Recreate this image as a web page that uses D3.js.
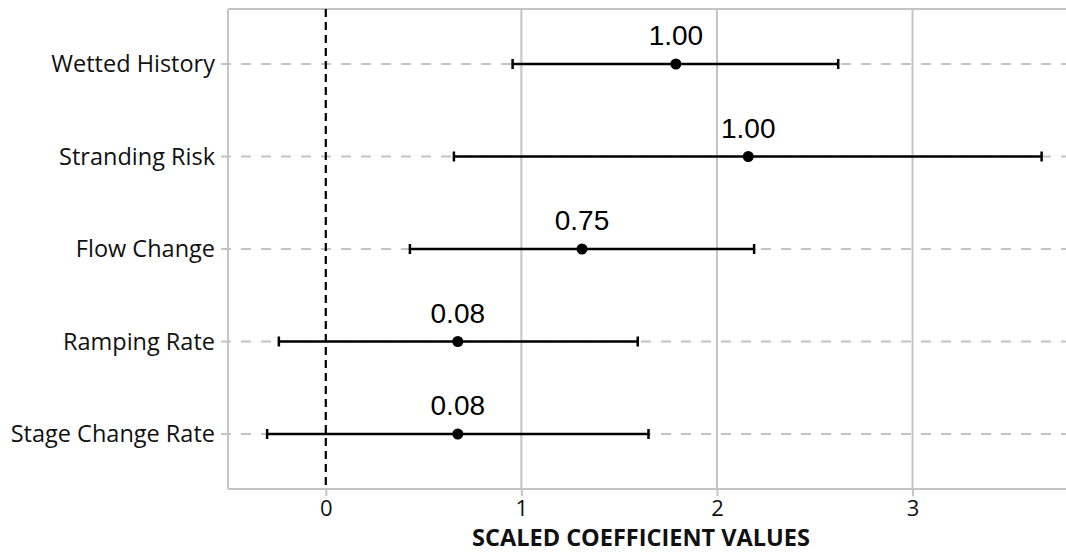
<!DOCTYPE html>
<html>
<head>
<meta charset="utf-8">
<script src="https://cdn.jsdelivr.net/npm/d3@7"></script>
<style>
  body { margin: 0; background: #fff; }
  svg { display: block; }
</style>
</head>
<body>
<div class="container"></div>
<script>
const w = 1066;
const h = 554;

// data
const variables = ['Wetted History', 'Stranding Risk', 'Flow Change', 'Ramping Rate', 'Stage Change Rate'];
const estimates = [1.79, 2.16, 1.31, 0.675, 0.675];
const lower = [0.955, 0.655, 0.43, -0.24, -0.30];
const upper = [2.62, 3.66, 2.19, 1.595, 1.65];
const weights = ['1.00', '1.00', '0.75', '0.08', '0.08'];
const xTicks = [0, 1, 2, 3];

const margin = { top: 9, bottom: 65, left: 228, right: 0 };
const height = h - margin.top - margin.bottom;

const svg = d3.select('.container').append('svg')
  .attr('width', w)
  .attr('height', h);

const chart = svg.append('g')
  .attr('transform', `translate(${margin.left}, ${margin.top})`);

const x = d3.scaleLinear()
  .domain([-0.5, 3.8])
  .range([0, 841]);

const y = d3.scalePoint()
  .domain(variables)
  .range([55, 425]);

const grey = '#c4c4c4';
const sans = 'Open Sans, sans-serif';

// vertical gridlines
chart.selectAll('.vgrid')
  .data(xTicks.filter(d => d !== 0))
  .enter()
  .append('line')
  .attr('x1', d => x(d))
  .attr('x2', d => x(d))
  .attr('y1', 0)
  .attr('y2', height)
  .style('stroke', grey)
  .style('stroke-width', 2);

// horizontal dashed gridlines
chart.selectAll('.hgrid')
  .data(variables)
  .enter()
  .append('line')
  .attr('x1', -7)
  .attr('x2', w - margin.left)
  .attr('y1', d => y(d))
  .attr('y2', d => y(d))
  .style('stroke', grey)
  .style('stroke-width', 2)
  .style('stroke-dasharray', '10,10')
  .style('stroke-dashoffset', 0);

// frame: top and left
chart.append('line')
  .attr('x1', 0).attr('x2', w - margin.left)
  .attr('y1', 0).attr('y2', 0)
  .style('stroke', grey).style('stroke-width', 2);
chart.append('line')
  .attr('x1', 0).attr('x2', 0)
  .attr('y1', 0).attr('y2', height)
  .style('stroke', grey).style('stroke-width', 2);

// x axis
const xAxis = d3.axisBottom(x)
  .tickValues(xTicks)
  .tickFormat(d3.format('d'))
  .tickSize(7)
  .tickPadding(4);

const gx = chart.append('g')
  .attr('transform', `translate(0, ${height})`)
  .call(xAxis);
gx.select('.domain').remove();
gx.selectAll('.tick line').style('stroke', grey).style('stroke-width', 2);
gx.selectAll('.tick text')
  .style('font-family', sans)
  .style('font-size', '22px')
  .style('fill', '#111');
chart.append('line')
  .attr('x1', 0).attr('x2', w - margin.left)
  .attr('y1', height).attr('y2', height)
  .style('stroke', grey).style('stroke-width', 2);

// y labels
chart.selectAll('.ylab')
  .data(variables)
  .enter()
  .append('text')
  .attr('x', -13)
  .attr('y', d => y(d))
  .attr('dy', '0.36em')
  .attr('text-anchor', 'end')
  .style('font-family', sans)
  .style('font-size', '23.5px')
  .style('fill', '#111')
  .text(d => d);

// zero reference line
chart.append('line')
  .attr('x1', x(0)).attr('x2', x(0))
  .attr('y1', 0).attr('y2', height)
  .style('stroke', '#000')
  .style('stroke-width', 2.2)
  .style('stroke-dasharray', '8,5');

// error bars
const rows = variables.map((v, i) => ({ v, est: estimates[i], lo: lower[i], hi: upper[i], wt: weights[i] }));

chart.selectAll('.bar')
  .data(rows)
  .enter()
  .append('line')
  .attr('x1', d => x(d.lo))
  .attr('x2', d => x(d.hi))
  .attr('y1', d => y(d.v))
  .attr('y2', d => y(d.v))
  .style('stroke', '#000')
  .style('stroke-width', 2.5);

chart.selectAll('.capL')
  .data(rows)
  .enter()
  .append('line')
  .attr('x1', d => x(d.lo)).attr('x2', d => x(d.lo))
  .attr('y1', d => y(d.v) - 5).attr('y2', d => y(d.v) + 5)
  .style('stroke', '#000').style('stroke-width', 2.5);

chart.selectAll('.capR')
  .data(rows)
  .enter()
  .append('line')
  .attr('x1', d => x(d.hi)).attr('x2', d => x(d.hi))
  .attr('y1', d => y(d.v) - 5).attr('y2', d => y(d.v) + 5)
  .style('stroke', '#000').style('stroke-width', 2.5);

chart.selectAll('.pt')
  .data(rows)
  .enter()
  .append('circle')
  .attr('cx', d => x(d.est))
  .attr('cy', d => y(d.v))
  .attr('r', 5.5)
  .style('fill', '#000');

chart.selectAll('.wt')
  .data(rows)
  .enter()
  .append('text')
  .attr('x', d => x(d.est))
  .attr('y', d => y(d.v) - 19)
  .attr('text-anchor', 'middle')
  .style('font-family', 'Liberation Sans, Arial, sans-serif')
  .style('font-size', '28px')
  .style('fill', '#000')
  .text(d => d.wt);

// axis title
svg.append('text')
  .attr('x', 641)
  .attr('y', 546)
  .attr('text-anchor', 'middle')
  .style('font-family', sans)
  .style('font-weight', 'bold')
  .style('font-size', '23.5px')
  .style('fill', '#111')
  .text('SCALED COEFFICIENT VALUES');
</script>
</body>
</html>
